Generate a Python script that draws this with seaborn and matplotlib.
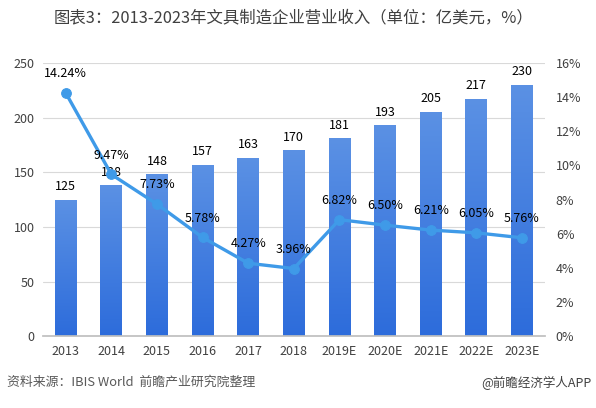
import numpy as np
import matplotlib
matplotlib.use('Agg')
import matplotlib.pyplot as plt
import matplotlib.colors as mcolors
from matplotlib.ticker import FuncFormatter
import seaborn as sns

# Données
years = ['2013', '2014', '2015', '2016', '2017', '2018',
         '2019E', '2020E', '2021E', '2022E', '2023E']
revenue = [125, 138, 148, 157, 163, 170, 181, 193, 205, 217, 230]
growth = [14.24, 9.47, 7.73, 5.78, 4.27, 3.96, 6.82, 6.50, 6.21, 6.05, 5.76]
growth_labels = ['14.24%', '9.47%', '7.73%', '5.78%', '4.27%', '3.96%',
                 '6.82%', '6.50%', '6.21%', '6.05%', '5.76%']

sns.set_theme(style='white')
plt.rcParams['font.family'] = ['Noto Sans CJK SC', 'DejaVu Sans']
plt.rcParams['axes.unicode_minus'] = False

TXT = '#404040'
LINE_C = '#3f9ae8'

fig = plt.figure(figsize=(5.96, 4.08), dpi=100)
ax = fig.add_axes([0.072, 0.176, 0.842, 0.670])

sns.barplot(x=years, y=revenue, ax=ax, color='#3f7fe0', width=0.48,
            saturation=1, zorder=2)
ax.set_xlim(-0.5, len(years) - 0.5)
ax.set_ylim(0, 250)
ax.set_yticks(range(0, 251, 50))
ax.grid(axis='y', color='#d9d9d9', linewidth=0.8, zorder=0)
ax.set_axisbelow(True)
ax.set_xlabel('')
ax.set_ylabel('')
for s in ['top', 'left', 'right']:
    ax.spines[s].set_visible(False)
ax.spines['bottom'].set_color('#bfbfbf')
ax.tick_params(axis='both', length=0, labelsize=9, colors=TXT, pad=6)

# dégradé vertical sur les barres
grad_cmap = mcolors.LinearSegmentedColormap.from_list('g', ['#2d6cdb', '#5b91e4'])
grad = np.linspace(0, 1, 256).reshape(-1, 1)
for p in ax.patches:
    x0, y0 = p.get_x(), p.get_y()
    w, h = p.get_width(), p.get_height()
    im = ax.imshow(grad, extent=[x0, x0 + w, y0, y0 + h], origin='lower',
                   cmap=grad_cmap, aspect='auto', zorder=2)
    im.set_clip_path(p)
    p.set_facecolor('none')
    p.set_edgecolor('none')
    ax.text(x0 + w / 2, y0 + h + 6, f'{int(round(h))}', ha='center', va='bottom',
            fontsize=9, color='black', zorder=5)
ax.set_xlim(-0.5, len(years) - 0.5)
ax.set_ylim(0, 250)

# axe secondaire : taux de croissance
ax2 = ax.twinx()
xs = np.arange(len(years))
sns.lineplot(x=xs, y=growth, ax=ax2, color=LINE_C, linewidth=2.4,
             marker='o', markersize=7, markeredgecolor=LINE_C, zorder=4)
ax2.set_ylim(0, 16)
ax2.set_yticks(range(0, 17, 2))
ax2.yaxis.set_major_formatter(FuncFormatter(lambda v, _: f'{int(v)}%'))
ax2.set_xlim(-0.5, len(years) - 0.5)
for s in ['top', 'left', 'right', 'bottom']:
    ax2.spines[s].set_visible(False)
ax2.tick_params(axis='y', length=0, labelsize=9, colors=TXT, pad=8)
ax2.grid(False)
for x, g, lab in zip(xs, growth, growth_labels):
    ax2.text(x, g + 0.75, lab, ha='center', va='bottom', fontsize=9,
             color='black', zorder=6)

fig.text(0.492, 0.957, '图表3：2013-2023年文具制造企业营业收入（单位：亿美元，%）',
         ha='center', va='center', fontsize=11.8, color=TXT)
fig.text(0.012, 0.062, '资料来源：IBIS World  前瞻产业研究院整理',
         ha='left', va='center', fontsize=9.3, color='#595959', style='italic')
fig.text(0.992, 0.062, '@前瞻经济学人APP', ha='right', va='center',
         fontsize=9, color=TXT)

fig.savefig('out.png', dpi=100)
